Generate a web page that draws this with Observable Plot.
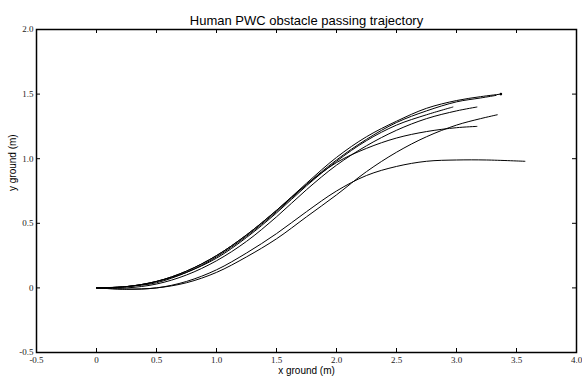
<!DOCTYPE html>
<html><head><meta charset="utf-8">
<script src="https://cdn.jsdelivr.net/npm/d3@7"></script>
<script src="https://cdn.jsdelivr.net/npm/@observablehq/plot@0.6"></script>
<style>body{margin:0;background:#fff}</style>
</head><body><div id="chart"></div>
<script>
const xTicks = [-0.5, 0, 0.5, 1.0, 1.5, 2.0, 2.5, 3.0, 3.5, 4.0];
const yTicks = [-0.5, 0, 0.5, 1.0, 1.5, 2.0];

const trialA_x = [0, 0.25, 0.5, 0.75, 1.0, 1.25, 1.5, 1.75, 2.0, 2.25, 2.5, 2.75, 3.0, 3.2, 3.37];
const trialA_y = [0, 0.01, 0.05, 0.13, 0.25, 0.41, 0.60, 0.81, 1.01, 1.17, 1.29, 1.39, 1.45, 1.48, 1.50];
const trialE_x = [0, 0.25, 0.5, 0.75, 1.0, 1.25, 1.5, 1.75, 2.0, 2.25, 2.5, 2.75, 3.0, 3.2, 3.33];
const trialE_y = [0, 0.01, 0.05, 0.12, 0.24, 0.40, 0.59, 0.80, 0.99, 1.15, 1.28, 1.37, 1.44, 1.47, 1.49];
const trialB_x = [0, 0.25, 0.5, 0.75, 1.0, 1.25, 1.5, 1.75, 2.0, 2.25, 2.5, 2.75, 2.97];
const trialB_y = [0, 0.01, 0.04, 0.12, 0.23, 0.39, 0.58, 0.79, 0.98, 1.14, 1.26, 1.34, 1.40];
const trialC_x = [0, 0.25, 0.5, 0.75, 1.0, 1.25, 1.5, 1.75, 2.0, 2.25, 2.5, 2.75, 3.0, 3.17];
const trialC_y = [0, 0.0, 0.03, 0.10, 0.21, 0.36, 0.55, 0.76, 0.95, 1.10, 1.22, 1.31, 1.37, 1.40];
const trialD_x = [0, 0.25, 0.5, 0.75, 1.0, 1.25, 1.5, 1.75, 2.0, 2.25, 2.5, 2.75, 3.0, 3.17];
const trialD_y = [0, 0.01, 0.05, 0.13, 0.25, 0.41, 0.60, 0.80, 0.97, 1.08, 1.16, 1.21, 1.24, 1.25];
const trialF_x = [0, 0.25, 0.5, 0.75, 1.0, 1.25, 1.5, 1.75, 2.0, 2.25, 2.5, 2.75, 3.0, 3.2, 3.34];
const trialF_y = [0, -0.01, 0.0, 0.04, 0.12, 0.24, 0.38, 0.55, 0.72, 0.90, 1.05, 1.17, 1.26, 1.31, 1.34];
const trialG_x = [0, 0.25, 0.5, 0.75, 1.0, 1.25, 1.5, 1.75, 2.0, 2.25, 2.5, 2.75, 3.0, 3.25, 3.57];
const trialG_y = [0, -0.01, 0.0, 0.05, 0.14, 0.27, 0.42, 0.59, 0.75, 0.87, 0.94, 0.98, 0.99, 0.99, 0.98];

const trials = [
  {name: "A", x: trialA_x, y: trialA_y},
  {name: "E", x: trialE_x, y: trialE_y},
  {name: "B", x: trialB_x, y: trialB_y},
  {name: "C", x: trialC_x, y: trialC_y},
  {name: "D", x: trialD_x, y: trialD_y},
  {name: "F", x: trialF_x, y: trialF_y},
  {name: "G", x: trialG_x, y: trialG_y}
];
const rows = trials.flatMap(t => t.x.map((x, i) => ({trial: t.name, x, y: t.y[i]})));
const endA = [{x: trialA_x[trialA_x.length - 1], y: trialA_y[trialA_y.length - 1]}];

const fmt = d => d === 0 ? "0" : d.toFixed(1);
const serif = "'Liberation Serif', 'Times New Roman', serif";
const sans = "'Liberation Sans', Arial, sans-serif";

const W = 582, H = 379, mL = 36, mR = 6, mT = 29, mB = 27;
const xMin = -0.5, xMax = 4.0, yMin = -0.5, yMax = 2.0;
const tickPx = 4;
const tickLenY = (yMax - yMin) * tickPx / (H - mT - mB);
const tickLenX = (xMax - xMin) * tickPx / (W - mL - mR);

const chart = Plot.plot({
  width: W,
  height: H,
  marginLeft: mL,
  marginRight: mR,
  marginTop: mT,
  marginBottom: mB,
  style: {background: "#fff", overflow: "visible"},
  x: {domain: [xMin, xMax]},
  y: {domain: [yMin, yMax]},
  marks: [
    Plot.axisX({anchor: "bottom", ticks: xTicks, tickSize: 0, tickPadding: 4, tickFormat: fmt, label: null, fontFamily: serif, fontSize: 9, fill: "#222"}),
    Plot.axisY({anchor: "left", ticks: yTicks, tickSize: 0, tickPadding: 3, tickFormat: fmt, label: null, fontFamily: serif, fontSize: 9, fill: "#222"}),
    // inward ticks on all four sides
    Plot.ruleX(xTicks, {x: d => d, y1: yMin, y2: yMin + tickLenY, stroke: "black", strokeWidth: 1}),
    Plot.ruleX(xTicks, {x: d => d, y1: yMax - tickLenY, y2: yMax, stroke: "black", strokeWidth: 1}),
    Plot.ruleY(yTicks, {y: d => d, x1: xMin, x2: xMin + tickLenX, stroke: "black", strokeWidth: 1}),
    Plot.ruleY(yTicks, {y: d => d, x1: xMax - tickLenX, x2: xMax, stroke: "black", strokeWidth: 1}),
    Plot.line(rows, {x: "x", y: "y", z: "trial", curve: "catmull-rom", stroke: "black", strokeWidth: 1}),
    Plot.dot(endA, {x: "x", y: "y", r: 1.3, fill: "black"}),
    Plot.frame({stroke: "black", strokeWidth: 1.5}),
    Plot.text(["Human PWC obstacle passing trajectory"], {frameAnchor: "top", dy: -14, fontFamily: sans, fontSize: 13, fill: "black"}),
    Plot.text(["x ground (m)"], {frameAnchor: "bottom", dy: 21, fontFamily: sans, fontSize: 10, fill: "black"}),
    Plot.text(["y ground (m)"], {frameAnchor: "left", dx: -24, rotate: -90, fontFamily: sans, fontSize: 10, fill: "black"})
  ]
});
document.getElementById("chart").appendChild(chart);
</script>
</body></html>
